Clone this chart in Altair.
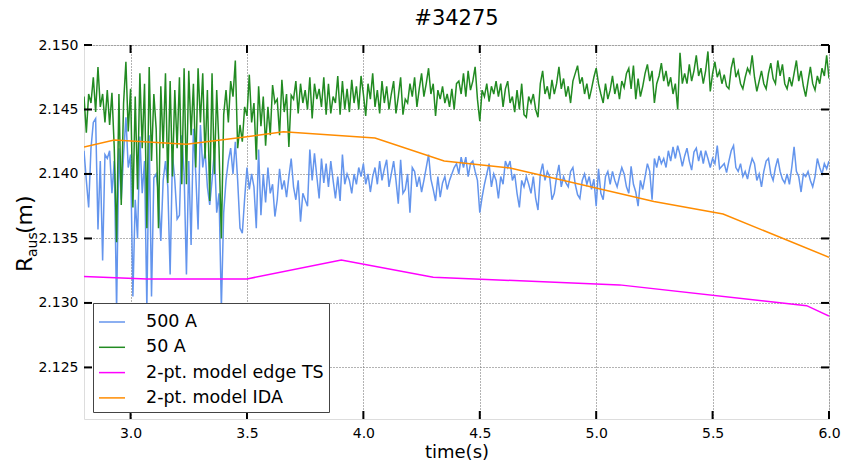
import altair as alt
import pandas as pd

# ---------------- data ----------------
T0 = 2.80      # first sample time of the two measured traces (s)
DT = 0.01      # sample spacing used for the read-off values (s)

r_500A = [
    2.1418, 2.1395, 2.1374, 2.1420, 2.1440, 2.1443, 2.1357, 2.1410, 2.1333, 2.1415,
    2.1412, 2.1418, 2.1385, 2.1410, 2.1295, 2.1420, 2.1380, 2.1415, 2.1444, 2.1405,
    2.1415, 2.1305, 2.1380, 2.1350, 2.1429, 2.1385, 2.1410, 2.1296, 2.1430, 2.1305,
    2.1397, 2.1400, 2.1385, 2.1348, 2.1395, 2.1410, 2.1390, 2.1322, 2.1415, 2.1395,
    2.1365, 2.1368, 2.1430, 2.1400, 2.1322, 2.1410, 2.1345, 2.1435, 2.1400, 2.1357,
    2.1438, 2.1405, 2.1418, 2.1390, 2.1376, 2.1395, 2.1418, 2.1370, 2.1385, 2.1296,
    2.1370, 2.1395, 2.1410, 2.1420, 2.1400, 2.1425, 2.1395, 2.1358, 2.1354, 2.1381,
    2.1405, 2.1388, 2.1400, 2.1390, 2.1358, 2.1419, 2.1368, 2.1400, 2.1378, 2.1405,
    2.1385, 2.1392, 2.1367, 2.1380, 2.1404, 2.1388, 2.1395, 2.1382, 2.1398, 2.1412,
    2.1390, 2.1380, 2.1395, 2.1363, 2.1385, 2.1380, 2.1375, 2.1419, 2.1395, 2.1416,
    2.1398, 2.1381, 2.1412, 2.1393, 2.1408, 2.1390, 2.1410, 2.1395, 2.1381, 2.1398,
    2.1379, 2.1415, 2.1392, 2.1400, 2.1395, 2.1385, 2.1400, 2.1392, 2.1405, 2.1398,
    2.1408, 2.1392, 2.1400, 2.1386, 2.1398, 2.1405, 2.1392, 2.1410, 2.1395, 2.1404,
    2.1411, 2.1390, 2.1400, 2.1410, 2.1395, 2.1377, 2.1411, 2.1385, 2.1388, 2.1400,
    2.1370, 2.1405, 2.1402, 2.1390, 2.1398, 2.1386, 2.1395, 2.1405, 2.1415, 2.1396,
    2.1388, 2.1379, 2.1398, 2.1382, 2.1393, 2.1398, 2.1388, 2.1395, 2.1400, 2.1405,
    2.1408, 2.1400, 2.1413, 2.1405, 2.1413, 2.1398, 2.1408, 2.1410, 2.1402, 2.1395,
    2.1370, 2.1382, 2.1392, 2.1400, 2.1408, 2.1390, 2.1400, 2.1395, 2.1381, 2.1398,
    2.1392, 2.1410, 2.1405, 2.1410, 2.1395, 2.1400, 2.1385, 2.1374, 2.1395, 2.1390,
    2.1398, 2.1392, 2.1385, 2.1398, 2.1381, 2.1372, 2.1400, 2.1408, 2.1395, 2.1402,
    2.1398, 2.1380, 2.1385, 2.1398, 2.1407, 2.1390, 2.1398, 2.1393, 2.1390, 2.1402,
    2.1405, 2.1392, 2.1384, 2.1381, 2.1395, 2.1400, 2.1392, 2.1398, 2.1388, 2.1396,
    2.1375, 2.1404, 2.1385, 2.1380, 2.1398, 2.1402, 2.1392, 2.1402, 2.1395, 2.1390,
    2.1398, 2.1405, 2.1400, 2.1390, 2.1385, 2.1406, 2.1392, 2.1386, 2.1375, 2.1395,
    2.1388, 2.1398, 2.1408, 2.1402, 2.1380, 2.1412, 2.1405, 2.1414, 2.1408, 2.1412,
    2.1405, 2.1418, 2.1410, 2.1421, 2.1412, 2.1422, 2.1415, 2.1406, 2.1414, 2.1420,
    2.1410, 2.1403, 2.1417, 2.1420, 2.1410, 2.1418, 2.1408, 2.1418, 2.1412, 2.1405,
    2.1412, 2.1408, 2.1422, 2.1404, 2.1406, 2.1408, 2.1401, 2.1410, 2.1418, 2.1422,
    2.1405, 2.1402, 2.1408, 2.1398, 2.1402, 2.1396, 2.1405, 2.1412, 2.1408, 2.1395,
    2.1400, 2.1390, 2.1402, 2.1410, 2.1412, 2.1400, 2.1395, 2.1405, 2.1412, 2.1402,
    2.1396, 2.1393, 2.1400, 2.1392, 2.1405, 2.1421, 2.1402, 2.1398, 2.1386, 2.1400,
    2.1398, 2.1402, 2.1395, 2.1390, 2.1398, 2.1412, 2.1405, 2.1400, 2.1408, 2.1404,
    2.1410,
]

r_50A = [
    2.1460, 2.1432, 2.1462, 2.1455, 2.1475, 2.1448, 2.1483, 2.1452, 2.1462, 2.1440,
    2.1465, 2.1438, 2.1463, 2.1420, 2.1347, 2.1462, 2.1376, 2.1455, 2.1487, 2.1433,
    2.1466, 2.1374, 2.1460, 2.1388, 2.1478, 2.1420, 2.1470, 2.1358, 2.1483, 2.1410,
    2.1462, 2.1435, 2.1358, 2.1468, 2.1420, 2.1478, 2.1393, 2.1472, 2.1398, 2.1465,
    2.1420, 2.1475, 2.1392, 2.1482, 2.1392, 2.1480, 2.1430, 2.1470, 2.1405, 2.1482,
    2.1440, 2.1478, 2.1412, 2.1465, 2.1379, 2.1478, 2.1400, 2.1465, 2.1420, 2.1350,
    2.1446, 2.1465, 2.1440, 2.1472, 2.1460, 2.1488, 2.1420, 2.1438, 2.1425, 2.1452,
    2.1445, 2.1477, 2.1440, 2.1455, 2.1411, 2.1468, 2.1437, 2.1460, 2.1422, 2.1452,
    2.1430, 2.1469, 2.1455, 2.1458, 2.1430, 2.1473, 2.1448, 2.1462, 2.1421, 2.1461,
    2.1458, 2.1472, 2.1447, 2.1470, 2.1455, 2.1465, 2.1450, 2.1475, 2.1443, 2.1470,
    2.1458, 2.1466, 2.1452, 2.1475, 2.1446, 2.1470, 2.1447, 2.1460, 2.1455, 2.1476,
    2.1446, 2.1472, 2.1450, 2.1466, 2.1448, 2.1473, 2.1455, 2.1468, 2.1450, 2.1476,
    2.1462, 2.1445, 2.1470, 2.1458, 2.1478, 2.1452, 2.1465, 2.1447, 2.1472, 2.1455,
    2.1468, 2.1450, 2.1462, 2.1472, 2.1447, 2.1460, 2.1475, 2.1446, 2.1458, 2.1455,
    2.1470, 2.1460, 2.1475, 2.1452, 2.1466, 2.1478, 2.1460, 2.1470, 2.1482, 2.1462,
    2.1470, 2.1445, 2.1465, 2.1458, 2.1468, 2.1455, 2.1462, 2.1452, 2.1466, 2.1450,
    2.1470, 2.1472, 2.1462, 2.1478, 2.1460, 2.1480, 2.1465, 2.1472, 2.1483, 2.1458,
    2.1441, 2.1465, 2.1460, 2.1470, 2.1456, 2.1468, 2.1462, 2.1472, 2.1460, 2.1470,
    2.1452, 2.1466, 2.1472, 2.1455, 2.1460, 2.1448, 2.1465, 2.1450, 2.1470, 2.1446,
    2.1444, 2.1460, 2.1455, 2.1462, 2.1450, 2.1444, 2.1470, 2.1480, 2.1462, 2.1468,
    2.1458, 2.1473, 2.1462, 2.1470, 2.1483, 2.1466, 2.1474, 2.1460, 2.1468, 2.1455,
    2.1472, 2.1478, 2.1484, 2.1470, 2.1475, 2.1462, 2.1470, 2.1458, 2.1466, 2.1475,
    2.1482, 2.1470, 2.1462, 2.1455, 2.1470, 2.1458, 2.1465, 2.1476, 2.1462, 2.1470,
    2.1458, 2.1472, 2.1467, 2.1478, 2.1482, 2.1466, 2.1484, 2.1458, 2.1474, 2.1460,
    2.1468, 2.1478, 2.1485, 2.1472, 2.1480, 2.1455, 2.1470, 2.1476, 2.1486, 2.1472,
    2.1480, 2.1468, 2.1475, 2.1462, 2.1470, 2.1450, 2.1494, 2.1470, 2.1478, 2.1470,
    2.1485, 2.1472, 2.1480, 2.1492, 2.1476, 2.1482, 2.1470, 2.1480, 2.1495, 2.1464,
    2.1478, 2.1487, 2.1475, 2.1480, 2.1470, 2.1477, 2.1468, 2.1466, 2.1482, 2.1490,
    2.1475, 2.1480, 2.1470, 2.1466, 2.1475, 2.1482, 2.1478, 2.1492, 2.1475, 2.1464,
    2.1472, 2.1480, 2.1470, 2.1466, 2.1478, 2.1486, 2.1474, 2.1470, 2.1488, 2.1476,
    2.1485, 2.1470, 2.1466, 2.1475, 2.1468, 2.1478, 2.1488, 2.1472, 2.1480, 2.1468,
    2.1460, 2.1472, 2.1483, 2.1470, 2.1465, 2.1476, 2.1470, 2.1482, 2.1476, 2.1492,
    2.1474,
]

ts_t = [2.80, 3.07, 3.50, 3.905, 4.30, 5.10, 5.904, 6.00]
ts_r = [2.13204, 2.13186, 2.13186, 2.13333, 2.13199, 2.13140, 2.12979, 2.12899]

ida_t = [2.80, 2.93, 3.24, 3.50, 3.657, 4.05, 4.347, 4.63, 5.248, 5.545, 6.00]
ida_r = [2.14209, 2.14264, 2.14230, 2.14289, 2.14328, 2.14279, 2.14101, 2.14047,
         2.13787, 2.13690, 2.13354]

series_names = ["500 A", "50 A", "2-pt. model edge TS", "2-pt. model IDA"]
series_colors = ["#6495ED", "#228B22", "#FF00FF", "#FF8C00"]

x_ticks = [3.0, 3.5, 4.0, 4.5, 5.0, 5.5, 6.0]
y_ticks = [2.125, 2.130, 2.135, 2.140, 2.145, 2.150]
x_domain = [2.8, 6.0]
y_domain = [2.121, 2.150]

# ---------------- tables ----------------
def frame(ts, rs, name):
    return pd.DataFrame({"t": ts, "r": rs, "series": name})

df_500 = frame([T0 + DT * i for i in range(len(r_500A))], r_500A, series_names[0])
df_50 = frame([T0 + DT * i for i in range(len(r_50A))], r_50A, series_names[1])
df_ts = frame(ts_t, ts_r, series_names[2])
df_ida = frame(ida_t, ida_r, series_names[3])

W, H = 745, 374
FONT = "DejaVu Sans"

xs = alt.Scale(domain=x_domain, nice=False, zero=False)
ys = alt.Scale(domain=y_domain, nice=False, zero=False)
cs = alt.Scale(domain=series_names, range=series_colors)

x_axis = alt.Axis(values=x_ticks, format=".1f", title="time(s)", grid=True,
                  ticks=False, domain=False, labelPadding=7, titlePadding=3,
                  labelFontSize=14, titleFontSize=18, titleFontWeight="normal",
                  labelFont=FONT, titleFont=FONT, labelColor="black", titleColor="black",
                  gridColor="#666", gridDash=[1, 2], gridWidth=1, labelFlush=False)
y_axis = alt.Axis(values=y_ticks, format=".3f", title=None, grid=True,
                  ticks=False, domain=False, labelPadding=6,
                  labelFontSize=14, labelFont=FONT, labelColor="black",
                  gridColor="#666", gridDash=[1, 2], gridWidth=1, labelFlush=False)

legend = alt.Legend(title=None, orient="none", legendX=9, legendY=258,
                    fillColor="white", strokeColor="#444", padding=5,
                    symbolType="stroke", symbolSize=676, symbolStrokeWidth=1.5,
                    labelFont=FONT, labelFontSize=17.5, labelColor="black",
                    labelOffset=20, rowPadding=2.3, cornerRadius=0, labelLimit=400)


def line_layer(df):
    return alt.Chart(df).mark_line(strokeWidth=1.5, clip=True).encode(
        x=alt.X("t:Q", scale=xs, axis=x_axis),
        y=alt.Y("r:Q", scale=ys, axis=y_axis),
        color=alt.Color("series:N", scale=cs, legend=legend),
    )


lines = [line_layer(d) for d in (df_500, df_50, df_ts, df_ida)]

# inward ticks like the original figure
df_xt = pd.DataFrame({"t": x_ticks})
df_yt = pd.DataFrame({"r": y_ticks})
TL = 8
tick_kw = dict(color="black", strokeWidth=2)
xt_bottom = alt.Chart(df_xt).mark_rule(**tick_kw).encode(
    x=alt.X("t:Q", scale=xs), y=alt.value(H - TL), y2=alt.value(H))
xt_top = alt.Chart(df_xt).mark_rule(**tick_kw).encode(
    x=alt.X("t:Q", scale=xs), y=alt.value(0), y2=alt.value(TL))
yt_left = alt.Chart(df_yt).mark_rule(**tick_kw).encode(
    y=alt.Y("r:Q", scale=ys), x=alt.value(0), x2=alt.value(TL))
yt_right = alt.Chart(df_yt).mark_rule(**tick_kw).encode(
    y=alt.Y("r:Q", scale=ys), x=alt.value(W - TL), x2=alt.value(W))

# y-axis label  R_aus(m)  with a real subscript
one = pd.DataFrame({"k": [0]})
lab_R = alt.Chart(one).mark_text(text="R", angle=270, align="left", baseline="alphabetic",
                                 font=FONT, fontSize=22, color="black").encode(
    x=alt.value(-52), y=alt.value(227))
lab_sub = alt.Chart(one).mark_text(text="aus", angle=270, align="left", baseline="alphabetic",
                                   font=FONT, fontSize=14, color="black").encode(
    x=alt.value(-47), y=alt.value(212))
lab_m = alt.Chart(one).mark_text(text="(m)", angle=270, align="left", baseline="alphabetic",
                                 font=FONT, fontSize=22, color="black").encode(
    x=alt.value(-52), y=alt.value(189))

chart = alt.layer(
    *lines, xt_bottom, xt_top, yt_left, yt_right, lab_R, lab_sub, lab_m
).properties(
    width=W, height=H,
    title=alt.TitleParams("#34275", font=FONT, fontSize=21, fontWeight="normal",
                          anchor="middle", color="black", offset=9),
    autosize=alt.AutoSizeParams(type="none"),
    padding={"left": 84, "top": 45, "right": 14, "bottom": 42},
).configure_view(
    stroke="black", strokeWidth=2
).configure(
    background="white"
)

chart.save("out.html", embed_options={"renderer": "svg", "actions": False})
